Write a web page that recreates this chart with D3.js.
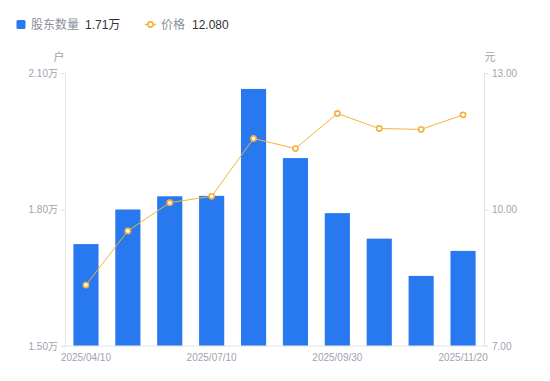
<!DOCTYPE html>
<html>
<head>
<meta charset="utf-8">
<script src="https://cdn.jsdelivr.net/npm/d3@7"></script>
<style>
  body { margin: 0; background: #fff; }
  svg { display: block; font-family: "Liberation Sans", Arial, "Noto Sans CJK SC", sans-serif; }
</style>
</head>
<body>
<svg id="chart" width="550" height="381"></svg>
<script>
// 日期（类目）
const dates = ["2025/04/10", "2025/05/20", "2025/06/20", "2025/07/10", "2025/08/10",
               "2025/08/31", "2025/09/30", "2025/10/20", "2025/10/31", "2025/11/20"];
// 股东数量（万户）
const holders = [1.724, 1.800, 1.829, 1.830, 2.065, 1.913, 1.792, 1.736, 1.654, 1.709];
// 价格（元）
const prices = [8.34, 9.53, 10.15, 10.29, 11.56, 11.34, 12.11, 11.78, 11.76, 12.08];
// 轴刻度
const holderTicks = [1.5, 1.8, 2.1];
const priceTicks = [7, 10, 13];
const xTickLabels = ["2025/04/10", "2025/07/10", "2025/09/30", "2025/11/20"];

const W = 550, H = 381;
const margin = { top: 73, right: 66, bottom: 35, left: 65 };

const blue = "#2878f0";
const orange = "#f6b13a";
const gray = "#a1a3b0";
const axisColor = "#e2e4e9";

const svg = d3.select("#chart");

const x = d3.scaleBand()
  .domain(dates)
  .range([margin.left, W - margin.right])
  .paddingInner(0.4)
  .paddingOuter(0.2);

const yL = d3.scaleLinear().domain([1.5, 2.1]).range([H - margin.bottom, margin.top]);
const yR = d3.scaleLinear().domain([7, 13]).range([H - margin.bottom, margin.top]);

// 柱子
svg.append("g")
  .selectAll("rect")
  .data(holders)
  .join("rect")
  .attr("x", (d, i) => x(dates[i]))
  .attr("width", x.bandwidth())
  .attr("y", d => yL(d))
  .attr("height", d => yL(1.5) - yL(d))
  .attr("fill", blue);

// 坐标轴
const leftAxis = svg.append("g")
  .attr("transform", `translate(${margin.left},0)`)
  .call(d3.axisLeft(yL).tickValues(holderTicks).tickSize(4).tickPadding(3)
    .tickFormat(d => d3.format(".2f")(d) + "万"));

const rightAxis = svg.append("g")
  .attr("transform", `translate(${W - margin.right},0)`)
  .call(d3.axisRight(yR).tickValues(priceTicks).tickSize(4).tickPadding(4)
    .tickFormat(d3.format(".2f")));

const bottomAxis = svg.append("g")
  .attr("transform", `translate(0,${H - margin.bottom})`)
  .call(d3.axisBottom(x).tickValues(xTickLabels).tickSize(0).tickPadding(8));

[leftAxis, rightAxis, bottomAxis].forEach(g => {
  g.select(".domain").attr("stroke", axisColor);
  g.selectAll(".tick line").attr("stroke", axisColor);
  g.selectAll(".tick text")
    .attr("fill", gray)
    .style("font-size", "10px")
    .style("font-family", "'Liberation Sans', Arial, 'Noto Sans CJK SC', sans-serif");
});
// 底部横线延伸
bottomAxis.select(".domain").attr("d", `M${margin.left - 4},0H${W - margin.right + 4}`);

// 单位
svg.append("text")
  .attr("x", 59).attr("y", 61)
  .attr("text-anchor", "middle")
  .attr("fill", gray)
  .style("font-size", "11px")
  .text("户");
svg.append("text")
  .attr("x", 490).attr("y", 61)
  .attr("text-anchor", "middle")
  .attr("fill", gray)
  .style("font-size", "11px")
  .text("元");

// 价格折线
const line = d3.line()
  .x((d, i) => x(dates[i]) + x.bandwidth() / 2)
  .y(d => yR(d));

svg.append("path")
  .datum(prices)
  .attr("d", line)
  .attr("fill", "none")
  .attr("stroke", orange)
  .attr("stroke-width", 1);

svg.append("g")
  .selectAll("circle")
  .data(prices)
  .join("circle")
  .attr("cx", (d, i) => x(dates[i]) + x.bandwidth() / 2)
  .attr("cy", d => yR(d))
  .attr("r", 2.6)
  .attr("fill", "#fff")
  .attr("stroke", orange)
  .attr("stroke-width", 1.6);

// 图例
const legend = svg.append("g").style("font-size", "12px");
legend.append("rect")
  .attr("x", 16.5).attr("y", 20).attr("width", 9).attr("height", 9)
  .attr("rx", 1.5)
  .attr("fill", blue);
legend.append("text")
  .attr("x", 31).attr("y", 29)
  .attr("fill", "#8c8f9c")
  .text("股东数量");
legend.append("text")
  .attr("x", 85).attr("y", 29)
  .attr("fill", "#333")
  .text(d3.format(".2f")(holders[holders.length - 1]) + "万");

legend.append("line")
  .attr("x1", 145).attr("x2", 156).attr("y1", 24.5).attr("y2", 24.5)
  .attr("stroke", orange).attr("stroke-width", 1.5);
legend.append("circle")
  .attr("cx", 150.5).attr("cy", 24.5).attr("r", 2.6)
  .attr("fill", "#fff").attr("stroke", orange).attr("stroke-width", 1.6);
legend.append("text")
  .attr("x", 161).attr("y", 29)
  .attr("fill", "#8c8f9c")
  .text("价格");
legend.append("text")
  .attr("x", 192).attr("y", 29)
  .attr("fill", "#333")
  .text(d3.format(".3f")(prices[prices.length - 1]));
</script>
</body>
</html>
